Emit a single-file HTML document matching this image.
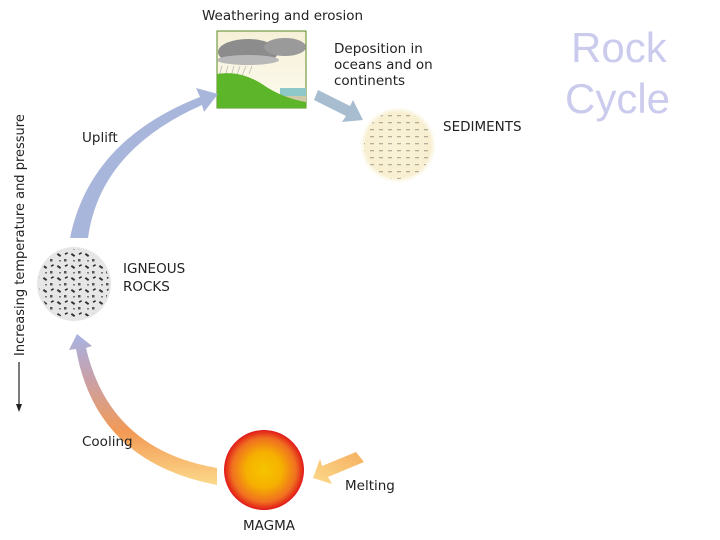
<!DOCTYPE html>
<html><head><meta charset="utf-8"><style>
html,body{margin:0;padding:0;background:#fff;width:720px;height:540px;overflow:hidden}
svg{display:block}
text{font-family:"DejaVu Sans","Liberation Sans",sans-serif;fill:#222}
</style></head><body>
<svg width="720" height="540" viewBox="0 0 720 540" xmlns="http://www.w3.org/2000/svg">
<defs>
<linearGradient id="cool" x1="0" y1="1" x2="0" y2="0" gradientUnits="objectBoundingBox">
<stop offset="0" stop-color="#fcd98a"/><stop offset="0.35" stop-color="#f29a55"/><stop offset="0.7" stop-color="#c9a0a8"/><stop offset="1" stop-color="#a7b3e3"/>
</linearGradient>
<linearGradient id="melt" x1="1" y1="0" x2="0" y2="1">
<stop offset="0" stop-color="#f5b060"/><stop offset="1" stop-color="#fcd98a"/>
</linearGradient>
<radialGradient id="mag" cx="0.5" cy="0.5" r="0.5">
<stop offset="0" stop-color="#f7c400"/><stop offset="0.45" stop-color="#f5b000"/><stop offset="0.8" stop-color="#f07020"/><stop offset="1" stop-color="#e01818"/>
</radialGradient>
<radialGradient id="sed" cx="0.5" cy="0.5" r="0.5">
<stop offset="0" stop-color="#faf3d8"/><stop offset="0.85" stop-color="#f8efd0"/><stop offset="1" stop-color="#fff"/>
</radialGradient>
<pattern id="sedp" width="9" height="7" patternUnits="userSpaceOnUse">
<rect x="1" y="3" width="4" height="1.3" fill="#8a8070"/>
</pattern>
<pattern id="ign" width="14" height="12" patternUnits="userSpaceOnUse">
<rect x="1" y="2" width="4" height="2" fill="#333" transform="rotate(35 3 3)"/>
<rect x="8" y="7" width="2.5" height="2.5" fill="#555"/>
<rect x="9" y="1" width="3" height="1.5" fill="#222" transform="rotate(-30 10 2)"/>
<rect x="3" y="8" width="2" height="1.5" fill="#777"/>
</pattern>
<linearGradient id="sky" x1="0" y1="0" x2="0" y2="1"><stop offset="0" stop-color="#f6f0d8"/><stop offset="1" stop-color="#fdfbee"/></linearGradient>
</defs>

<text x="571" y="62" font-size="42" style="font-family:'Liberation Sans',sans-serif;fill:#cbcbee">Rock</text>
<text x="565" y="113" font-size="42" style="font-family:'Liberation Sans',sans-serif;fill:#cbcbee">Cycle</text>

<text x="202" y="20" font-size="13.5">Weathering and erosion</text>
<rect x="217" y="31" width="89" height="77" fill="url(#sky)" stroke="#5a8a20" stroke-width="1"/>
<ellipse cx="248" cy="52" rx="30" ry="13" fill="#8c8c8c"/>
<ellipse cx="285" cy="47" rx="21" ry="9" fill="#9a9a9a"/>
<ellipse cx="248" cy="60" rx="31" ry="5" fill="#b8b8b8"/>
<g stroke="#bbb" stroke-width="0.8"><line x1="222" y1="66" x2="218" y2="80"/><line x1="228" y1="66" x2="224" y2="80"/><line x1="234" y1="66" x2="230" y2="80"/><line x1="240" y1="66" x2="236" y2="78"/><line x1="246" y1="66" x2="242" y2="76"/><line x1="252" y1="66" x2="249" y2="74"/></g>
<rect x="280" y="88" width="26" height="9" fill="#8fc8c8"/>
<rect x="280" y="96" width="26" height="6" fill="#cfc9a8"/>
<path d="M217 74 Q240 70 262 84 Q282 98 306 102 L306 108 L217 108 Z" fill="#5db52a"/>

<text x="334" y="53" font-size="13.5">Deposition in</text>
<text x="334" y="69" font-size="13.5">oceans and on</text>
<text x="334" y="85" font-size="13.5">continents</text>
<path d="M318 90 L350 106 L353 100 L363 120 L342 122 L346 116 L314 100 Z" fill="#a9bdd0"/>

<circle cx="398" cy="145" r="38" fill="url(#sed)"/>
<circle cx="398" cy="145" r="34" fill="url(#sedp)" opacity="0.6"/>
<text x="443" y="131" font-size="13.5">SEDIMENTS</text>

<path d="M70 238 Q90 140 200 97 L196 88 L218 94 L204 112 L202 105 Q100 150 88 238 Z" fill="#a9b6db"/>
<text x="82" y="142" font-size="13.5">Uplift</text>

<circle cx="74" cy="284" r="37" fill="#e6e6e6"/>
<circle cx="74" cy="284" r="35" fill="url(#ign)"/>
<text x="123" y="273" font-size="13.5">IGNEOUS</text>
<text x="123" y="291" font-size="13.5">ROCKS</text>

<text transform="translate(24 356) rotate(-90)" font-size="13">Increasing temperature and pressure</text>
<line x1="19" y1="362" x2="19" y2="408" stroke="#222" stroke-width="1.2"/>
<path d="M16 404 L19 412 L22 404 Z" fill="#222"/>

<path d="M217 468 Q110 450 86 348 L92 346 L77 334 L69 350 L76 349 Q96 462 217 485 Z" fill="url(#cool)"/>
<text x="82" y="446" font-size="13.5">Cooling</text>

<circle cx="264" cy="470" r="40" fill="url(#mag)"/>
<text x="243" y="530" font-size="13.5">MAGMA</text>

<path d="M356 452 L322 466 L320 459 L313 478 L332 484 L328 477 L364 462 Z" fill="url(#melt)"/>
<text x="345" y="490" font-size="13.5">Melting</text>
</svg>
</body></html>
